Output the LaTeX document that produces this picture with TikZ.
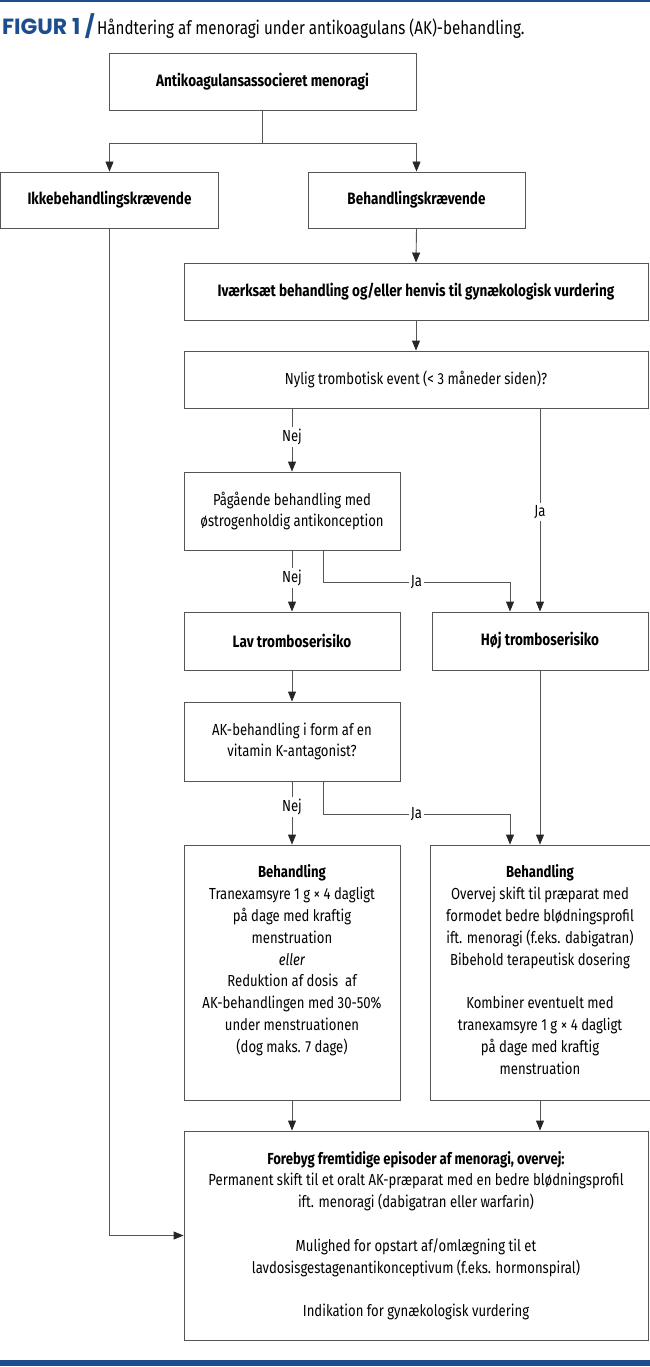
\documentclass[tikz,border=0pt]{standalone}
\usepackage{fontspec}
\setmainfont{Fira Sans}[FakeStretch=0.82]
\newfontfamily\mngtitlefont{Poppins}
\usetikzlibrary{arrows.meta,positioning,calc}
\definecolor{mngblue}{HTML}{1C4E8F}
\definecolor{mngline}{HTML}{555555}
\tikzset{
 mng box/.style={draw=mngline,line width=0.9pt,align=center,inner sep=4pt,
                 font=\fontsize{16}{21.8}\selectfont},
 mng bold/.style={mng box,font=\fontsize{16.5}{21.8}\selectfont\bfseries},
 mng line/.style={draw=mngline,line width=0.9pt},
 mng arrow/.style={mng line,-{Triangle[length=10pt,width=8pt,color=black!85]}},
 mng label/.style={fill=white,inner sep=2pt,font=\fontsize{16}{18}\selectfont}
}

\begin{document}
\begin{tikzpicture}[x=1pt,y=-1pt]
 \useasboundingbox (0,0) rectangle (650,1367);
 \fill[mngblue] (0,0) rectangle (650,2);
 \fill[mngblue] (0,1360) rectangle (650,1366);
 \node[anchor=base west,inner sep=0pt] (title) at (2,35)
   {{\mngtitlefont\fontsize{22}{24}\selectfont\bfseries\color{mngblue}FIGUR 1 /}
    {\fontsize{18.5}{22}\selectfont Håndtering af menoragi under antikoagulans (AK)-behandling.}};

 % boxes
 \node[mng bold,minimum width=307pt,minimum height=57pt] (start) at (262.5,81.5)
   {Antikoagulansassocieret menoragi};
 \node[mng bold,minimum width=218pt,minimum height=56pt] (ikke) at (109.5,200)
   {Ikkebehandlingskrævende};
 \node[mng bold,minimum width=217pt,minimum height=56pt] (krav) at (416.5,200)
   {Behandlingskrævende};
 \node[mng bold,minimum width=464pt,minimum height=57pt] (ivaerk) at (416,291.5)
   {Iværksæt behandling og/eller henvis til gynækologisk vurdering};
 \node[mng box,minimum width=464pt,minimum height=57pt] (event) at (416,379.5)
   {Nylig trombotisk event (< 3 måneder siden)?};
 \node[mng box,minimum width=216pt,minimum height=78pt] (oestr) at (292,511)
   {Pågående behandling med\\østrogenholdig antikonception};
 \node[mng bold,minimum width=216pt,minimum height=58pt] (lav) at (292,641)
   {Lav tromboserisiko};
 \node[mng bold,minimum width=216pt,minimum height=58pt] (hoej) at (540,641)
   {Høj tromboserisiko};
 \node[mng box,minimum width=216pt,minimum height=79pt] (vka) at (292,741.5)
   {AK-behandling i form af en\\vitamin K-antagonist?};
 \node[mng box,minimum width=216pt,minimum height=255pt] (behlav) at (292,972.5)
   {\parbox[c][215pt][t]{205pt}{\centering
    \textbf{Behandling}\\
    Tranexamsyre 1 g × 4 dagligt\\
    på dage med kraftig\\
    menstruation\\
    \textit{eller}\\
    Reduktion af dosis\ \ af\\
    AK-behandlingen med 30-50\%\\
    under menstruationen\\
    (dog maks. 7 dage)}};
 \node[mng box,minimum width=216pt,minimum height=255pt] (behhoej) at (540,972.5)
   {\parbox[c][215pt][t]{212pt}{\centering
    \textbf{Behandling}\\
    Overvej skift til præparat med\\
    formodet bedre blødningsprofil\\
    ift. menoragi (f.eks. dabigatran)\\
    Bibehold terapeutisk dosering\\[21.8pt]
    Kombiner eventuelt med\\
    tranexamsyre 1 g × 4 dagligt\\
    på dage med kraftig\\
    menstruation}};
 \node[mng box,minimum width=464pt,minimum height=209pt] (forebyg) at (416,1235.5)
   {\textbf{Forebyg fremtidige episoder af menoragi, overvej:}\\
    Permanent skift til et oralt AK-præparat med en bedre blødningsprofil\\
    ift. menoragi (dabigatran eller warfarin)\\[21.8pt]
    Mulighed for opstart af/omlægning til et\\
    lavdosisgestagenantikonceptivum (f.eks. hormonspiral)\\[21.8pt]
    Indikation for gynækologisk vurdering};

 % connectors
 \coordinate (split) at ($(start.south)+(0,33)$);
 \draw[mng line] (start.south) -- (split);
 \draw[mng arrow] (split) -| (ikke.north);
 \draw[mng arrow] (split) -| (krav.north);
 \draw[mng arrow] (krav.south) -- (ivaerk.north);
 \draw[mng arrow] (ivaerk.south) -- (event.north);
 \draw[mng arrow] (event.south -| oestr.north) -- node[mng label,pos=.45] {Nej} (oestr.north);
 \draw[mng arrow] (event.south -| hoej.north) -- node[mng label,pos=.51] {Ja} (hoej.north);
 \draw[mng arrow] (oestr.south) -- node[mng label,pos=.45] {Nej} (lav.north);
 \coordinate (oestrja) at ($(oestr.south)+(31,0)$);
 \coordinate (hoejin) at ($(hoej.north)+(-30,0)$);
 \draw[mng arrow] (oestrja) -- ++(0,32) coordinate (oestrbend)
   -- node[mng label] {Ja} (oestrbend -| hoejin) -- (hoejin);
 \draw[mng arrow] (lav.south) -- (vka.north);
 \draw[mng arrow] (hoej.south) -- (behhoej.north);
 \draw[mng arrow] (vka.south) -- node[mng label,pos=.4] {Nej} (behlav.north);
 \coordinate (vkaja) at ($(vka.south)+(31,0)$);
 \coordinate (behin) at ($(behhoej.north)+(-30,0)$);
 \draw[mng arrow] (vkaja) -- ++(0,33) coordinate (vkabend)
   -- node[mng label] {Ja} (vkabend -| behin) -- (behin);
 \draw[mng arrow] (behlav.south) -- (behlav.south |- forebyg.north);
 \draw[mng arrow] (behhoej.south) -- (behhoej.south |- forebyg.north);
 \draw[mng arrow] (ikke.south) |- (forebyg.west);
\end{tikzpicture}
\end{document}
